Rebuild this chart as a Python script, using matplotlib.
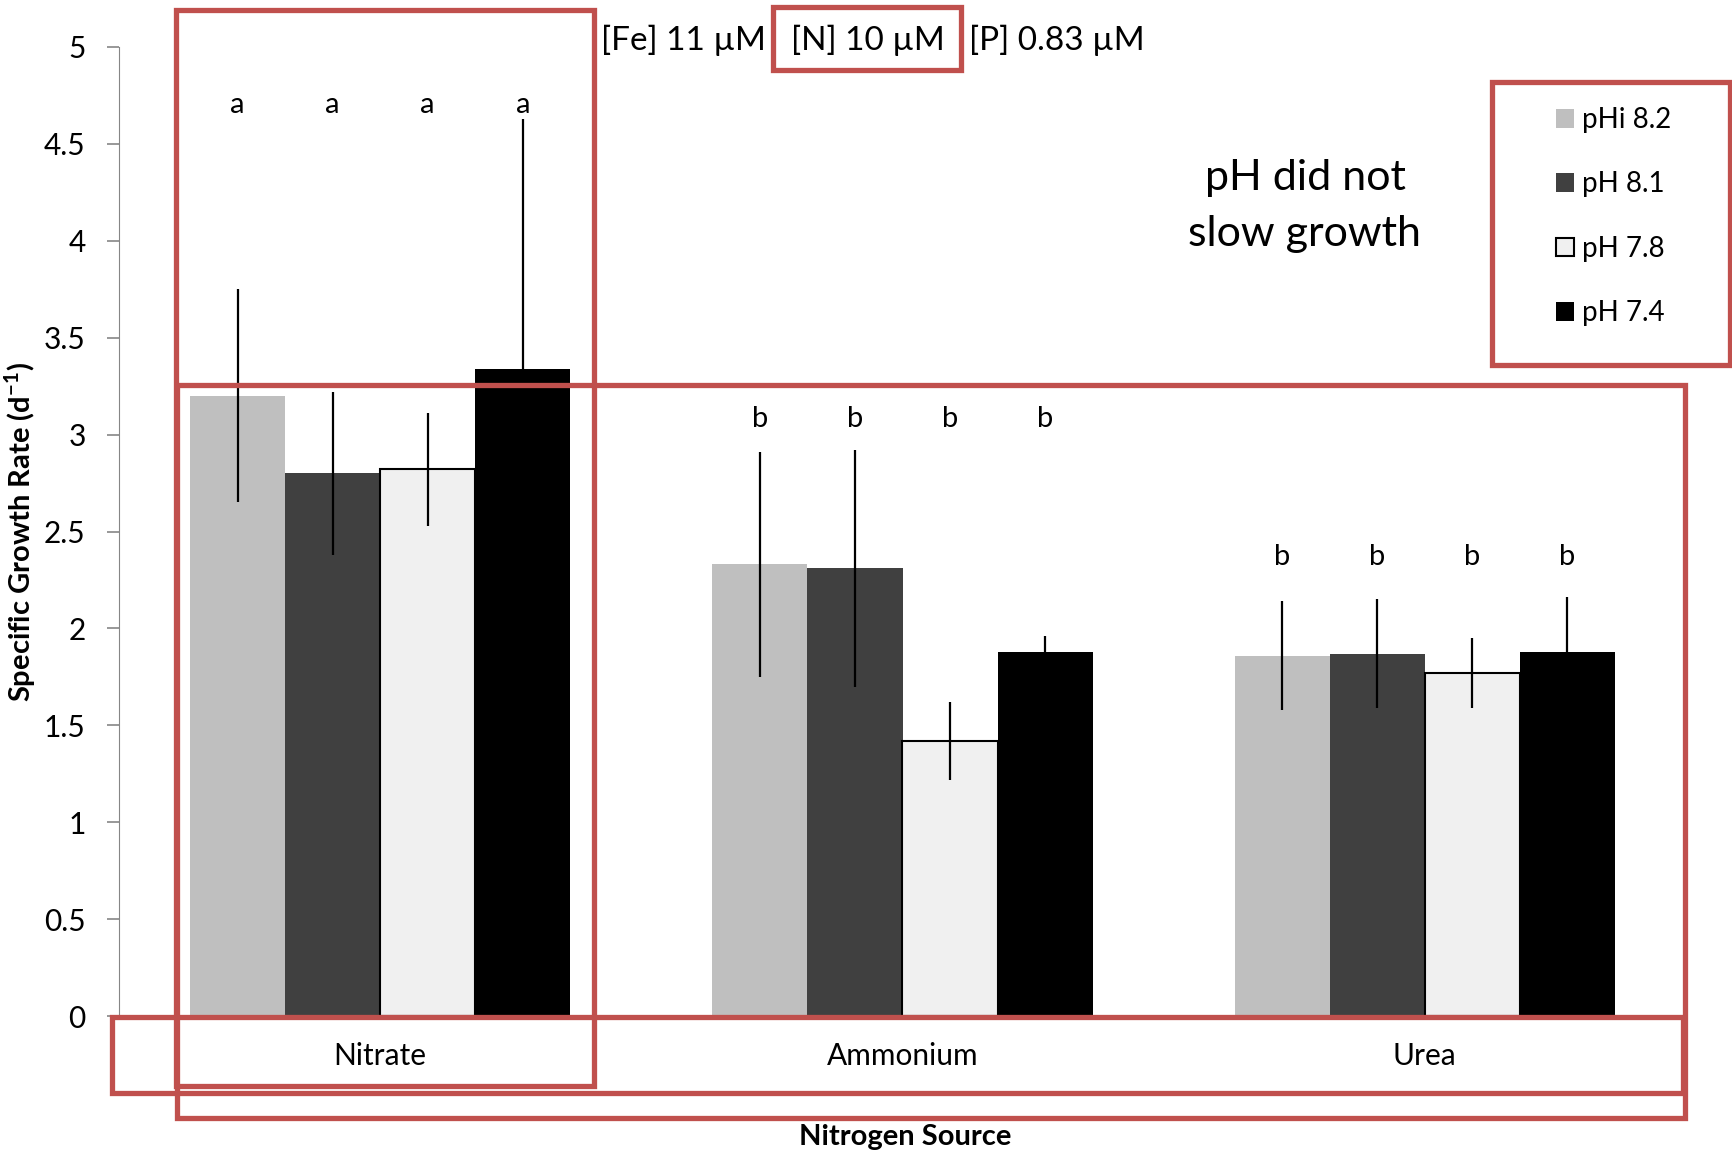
import numpy as np
import matplotlib.pyplot as plt
from matplotlib.patches import Rectangle

plt.rcParams['font.family'] = ['Lato', 'DejaVu Sans']
plt.rcParams['mathtext.fontset'] = 'custom'
plt.rcParams['mathtext.rm'] = 'Lato'
plt.rcParams['mathtext.bf'] = 'Lato:bold'

# --------------------------------------------------
# Data
# --------------------------------------------------
sources = ["Nitrate", "Ammonium", "Urea"]
ph_labels = ["pHi 8.2", "pH 8.1", "pH 7.8", "pH 7.4"]

rate_ph82 = [3.20, 2.33, 1.86]
rate_ph81 = [2.80, 2.31, 1.87]
rate_ph78 = [2.82, 1.42, 1.77]
rate_ph74 = [3.34, 1.88, 1.88]

err_ph82 = [0.55, 0.58, 0.28]
err_ph81 = [0.42, 0.61, 0.28]
err_ph78 = [0.29, 0.20, 0.18]
err_ph74 = [1.29, 0.08, 0.28]

sig_letters = ["a", "b", "b"]
letter_y = [4.70, 3.08, 2.37]

nutrient_labels = ["[Fe] 11 µM", "[N] 10 µM", "[P] 0.83 µM"]
note = "pH did not\nslow growth"

rates = [rate_ph82, rate_ph81, rate_ph78, rate_ph74]
errs = [err_ph82, err_ph81, err_ph78, err_ph74]
colors = ["#BFBFBF", "#404040", "#F0F0F0", "#000000"]
edges = ["#BFBFBF", "#404040", "#000000", "#000000"]

W, H = 1733, 1150
fig = plt.figure(figsize=(W / 100, H / 100), dpi=100)
ax = fig.add_axes([119 / W, 1 - 1016 / H, 1567 / W, 969 / H])

x = np.arange(len(sources))
width = 0.182

for i in range(4):
    pos = x + (i - 1.5) * width
    ax.bar(pos, rates[i], width, color=colors[i], edgecolor=edges[i],
           linewidth=1.5 if i == 2 else 0, label=ph_labels[i], zorder=2)
    ax.errorbar(pos, rates[i], yerr=errs[i], fmt='none', ecolor='black',
                elinewidth=1.6, capsize=0, zorder=3)
    for j in range(len(sources)):
        ax.text(pos[j], letter_y[j], sig_letters[j], ha='center', va='center',
                fontsize=21)

ax.set_xlim(-0.5, 2.5)
ax.set_ylim(0, 5)
ax.set_yticks(np.arange(0, 5.01, 0.5))
ax.set_yticklabels(["0", "0.5", "1", "1.5", "2", "2.5", "3", "3.5", "4", "4.5", "5"])
ax.set_xticks(x)
ax.set_xticklabels(sources)

ax.spines['top'].set_visible(False)
ax.spines['right'].set_visible(False)
ax.spines['bottom'].set_visible(False)
ax.spines['left'].set_color('#868686')
ax.tick_params(axis='y', length=9, width=1.2, color='#868686', pad=15, labelsize=21.5)
ax.tick_params(axis='x', length=0, pad=19, labelsize=21.5)

ax.set_ylabel(r"Specific Growth Rate (d$^{\mathbf{-1}}$)", fontsize=21, fontweight='bold')
ax.yaxis.set_label_coords(-0.052, 0.5)
ax.set_xlabel("Nitrogen Source", fontsize=21, fontweight='bold')
ax.xaxis.set_label_coords(0.502, -0.111)

fig.legend(loc='upper left', bbox_to_anchor=(1556 / W, 1 - 107 / H), frameon=False,
           fontsize=20, handlelength=0.65, handleheight=0.65,
           handletextpad=0.3, labelspacing=1.38, borderpad=0, borderaxespad=0)

fig.text(601 / W, 1 - 40 / H, nutrient_labels[0], fontsize=24, va='center', ha='left')
fig.text(791 / W, 1 - 40 / H, nutrient_labels[1], fontsize=24, va='center', ha='left')
fig.text(969 / W, 1 - 40 / H, nutrient_labels[2], fontsize=24, va='center', ha='left')
fig.text(1305 / W, 1 - 206 / H, note, fontsize=31, ha='center', va='center',
         linespacing=1.6)

# red highlight boxes (pixel coords of the reference)
boxes = [(176, 10, 594, 1086), (773, 7, 961, 70), (1492, 82, 1730, 365),
         (177, 385, 1685, 1118), (112, 1017, 1683, 1093)]
for x0, y0, x1, y1 in boxes:
    fig.add_artist(Rectangle((x0 / W, 1 - y1 / H), (x1 - x0) / W, (y1 - y0) / H,
                             transform=fig.transFigure, fill=False,
                             edgecolor='#C0504D', linewidth=3.8, zorder=10))

fig.savefig("out.png", dpi=100)
